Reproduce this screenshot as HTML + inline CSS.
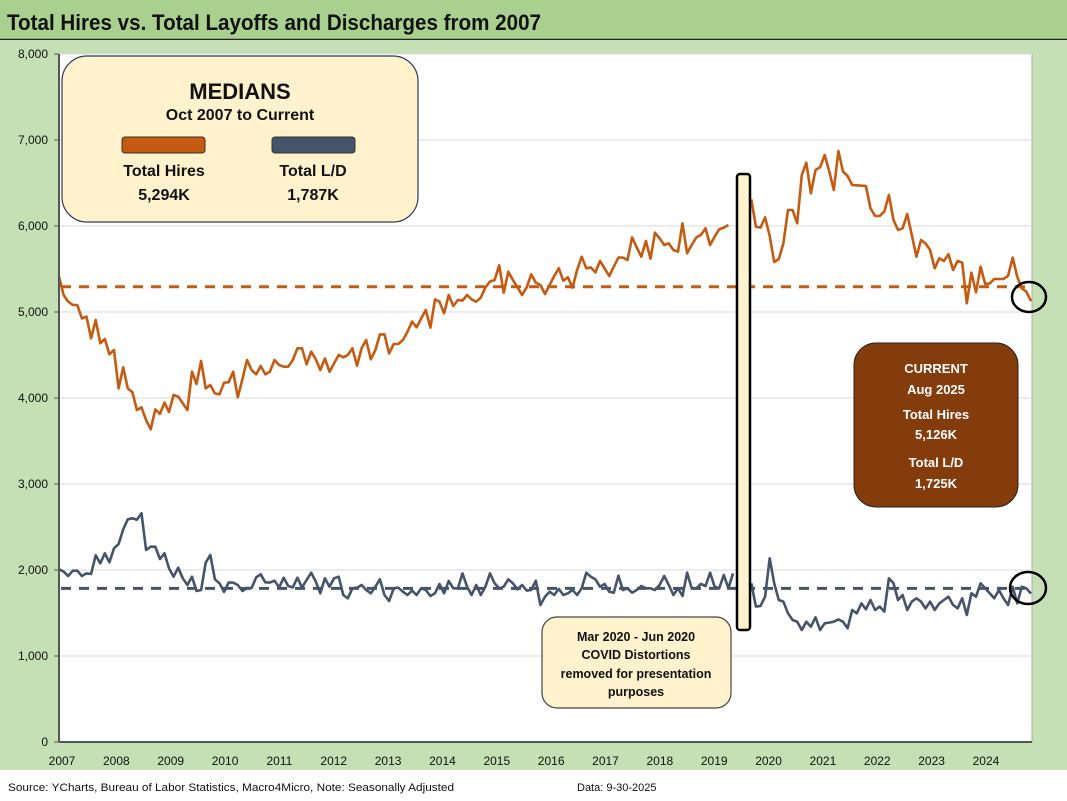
<!DOCTYPE html>
<html><head><meta charset="utf-8"><style>
body{margin:0;width:1067px;height:801px;overflow:hidden;background:#fff;font-family:"Liberation Sans",Arial,sans-serif;}
svg{display:block}
</style></head><body>
<svg width="1067" height="801" xmlns="http://www.w3.org/2000/svg">
<rect x="0" y="0" width="1067" height="40" fill="#a9d08e"/>
<line x1="0" y1="39.5" x2="1067" y2="39.5" stroke="#222" stroke-width="1.5"/>
<text x="7" y="30" font-size="22" font-weight="bold" fill="#111" textLength="534" lengthAdjust="spacingAndGlyphs">Total Hires vs. Total Layoffs and Discharges from 2007</text>
<rect x="0" y="40" width="1067" height="730" fill="#c5e0b4"/>
<rect x="59" y="54" width="973" height="688" fill="#fff" stroke="#aaa"/>
<g id="grid"></g><g id="yticks"></g><g id="xticks"></g>
<g id="medians"></g><g id="series"></g>
<line x1="59" y1="54" x2="59" y2="742" stroke="#555" stroke-width="2"/>
<line x1="59" y1="742" x2="1032" y2="742" stroke="#555" stroke-width="2"/>
<rect x="737" y="174" width="13" height="456" rx="3" fill="#fff2cc" stroke="#000" stroke-width="2.5"/>
<g>
<rect x="62" y="56" width="356" height="166" rx="25" fill="#fff2cc" stroke="#2f3b55" stroke-width="1.2"/>
<text x="240" y="99" font-size="22" font-weight="bold" text-anchor="middle" fill="#111">MEDIANS</text>
<text x="240" y="120" font-size="16" font-weight="bold" text-anchor="middle" fill="#111">Oct 2007 to Current</text>
<rect x="122" y="137" width="83" height="16" rx="3" fill="#c55a11" stroke="#333"/>
<rect x="272" y="137" width="83" height="16" rx="3" fill="#44546a" stroke="#333"/>
<text x="164" y="176" font-size="16" font-weight="bold" text-anchor="middle" fill="#111">Total Hires</text>
<text x="164" y="200" font-size="16" font-weight="bold" text-anchor="middle" fill="#111">5,294K</text>
<text x="313" y="176" font-size="16" font-weight="bold" text-anchor="middle" fill="#111">Total L/D</text>
<text x="313" y="200" font-size="16" font-weight="bold" text-anchor="middle" fill="#111">1,787K</text>
</g>
<g>
<rect x="854" y="343" width="164" height="164" rx="22" fill="#843c0c" stroke="#222"/>
<text x="936" y="373" font-size="13" font-weight="bold" text-anchor="middle" fill="#fff">CURRENT</text>
<text x="936" y="394" font-size="13" font-weight="bold" text-anchor="middle" fill="#fff">Aug 2025</text>
<text x="936" y="419" font-size="13" font-weight="bold" text-anchor="middle" fill="#fff">Total Hires</text>
<text x="936" y="439" font-size="13" font-weight="bold" text-anchor="middle" fill="#fff">5,126K</text>
<text x="936" y="467" font-size="13" font-weight="bold" text-anchor="middle" fill="#fff">Total L/D</text>
<text x="936" y="488" font-size="13" font-weight="bold" text-anchor="middle" fill="#fff">1,725K</text>
</g>
<g>
<rect x="542" y="617" width="189" height="91" rx="15" fill="#fff2cc" stroke="#444" stroke-width="1.2"/>
<text x="636" y="641" font-size="12.5" font-weight="bold" text-anchor="middle" fill="#111">Mar 2020  - Jun 2020</text>
<text x="636" y="659" font-size="12.5" font-weight="bold" text-anchor="middle" fill="#111">COVID Distortions</text>
<text x="636" y="678" font-size="12.5" font-weight="bold" text-anchor="middle" fill="#111">removed for presentation</text>
<text x="636" y="696" font-size="12.5" font-weight="bold" text-anchor="middle" fill="#111">purposes</text>
</g>
<ellipse cx="1029" cy="297" rx="17" ry="15" fill="none" stroke="#000" stroke-width="2.5"/>
<ellipse cx="1028" cy="588" rx="18" ry="16" fill="none" stroke="#000" stroke-width="2.5"/>
<text x="8" y="791" font-size="11" fill="#111" textLength="446" lengthAdjust="spacingAndGlyphs">Source: YCharts, Bureau of Labor Statistics, Macro4Micro, Note: Seasonally Adjusted</text>
<text x="577" y="791" font-size="11" fill="#111">Data: 9-30-2025</text>
</svg>
<script>
const yTicks=[0,1000,2000,3000,4000,5000,6000,7000,8000];
const yearLabels=["2007","2008","2009","2010","2011","2012","2013","2014","2015","2016","2017","2018","2019","2020","2021","2022","2023","2024"];
const medianHires=5294;
const medianLD=1787;
const gapCount=4;
const hiresPre=[5411,5198,5120,5081,5081,4926,4946,4694,4907,4636,4686,4508,4558,4112,4357,4112,4066,3860,3891,3744,3636,3868,3814,3946,3837,4035,4016,3938,3860,4306,4163,4430,4112,4151,4054,4043,4178,4182,4306,4008,4217,4442,4326,4275,4372,4275,4306,4442,4384,4364,4364,4442,4578,4578,4392,4539,
4450,4326,4461,4306,4403,4500,4473,4500,4578,4376,4578,4674,4450,4558,4740,4740,4519,4628,4628,4674,4771,4888,4822,4926,5023,4818,5147,5120,4985,5198,5070,5140,5132,5198,5147,5120,5167,5287,5353,5372,5543,5225,5469,5372,5287,5198,5287,5438,5341,5314,5209,5314,5419,
5508,5364,5403,5283,5488,5643,5508,5519,5461,5593,5508,5419,5527,5632,5632,5605,5868,5752,5643,5826,5620,5922,5857,5779,5798,5721,5701,6031,5682,5779,5868,5895,5973,5779,5876,5962,5981,6012];
const hiresPost=[6310,5992,5981,6101,5884,5581,5616,5800,6186,6186,6031,6593,6736,6380,6651,6682,6826,6632,6419,6872,6632,6581,6477,6473,6469,6465,6206,6116,6116,6167,6360,6070,5953,5973,6140,5895,5643,5837,5798,5721,5508,5624,5593,5671,5488,5593,5574,5101,5457,5229,5527,5326,5333,5384,5384,5384,5422,5632,5411,5275,5236,5126];
const ldPre=[2008,1981,1930,1992,1992,1930,1961,1953,2171,2078,2194,2089,2252,2302,2473,2589,2601,2585,2659,2233,2271,2271,2128,2194,2019,1922,2027,1903,1826,1922,1756,1767,2085,2174,1892,1845,1744,1853,1853,1826,1756,1791,1791,1915,1950,1857,1853,1876,1798,1911,1814,1798,1911,1798,1884,1969,
1864,1729,1903,1806,1903,1922,1709,1671,1787,1794,1826,1767,1729,1806,1892,1709,1640,1787,1794,1748,1709,1760,1709,1787,1767,1698,1729,1837,1729,1872,1787,1787,1961,1806,1709,1826,1709,1806,1961,1845,1787,1806,1892,1845,1775,1826,1760,1767,1876,1593,1690,1748,1709,1780,
1709,1729,1767,1709,1787,1969,1922,1892,1806,1837,1748,1736,1934,1767,1787,1736,1767,1814,1787,1787,1767,1826,1930,1826,1709,1787,1698,1969,1787,1787,1837,1814,1969,1806,1787,1942,1787,1961];
const ldPost=[1845,1574,1581,1690,2136,1845,1651,1632,1496,1419,1399,1302,1399,1341,1450,1302,1380,1388,1399,1426,1399,1322,1535,1496,1612,1543,1651,1535,1574,1516,1903,1845,1651,1709,1535,1632,1671,1632,1554,1632,1535,1612,1651,1690,1593,1554,1671,1477,1729,1690,1845,1787,1729,1671,1767,1671,1593,1806,1612,1806,1787,1725];

const NS='http://www.w3.org/2000/svg';
const X0=59,X1=1031,Y0=742,YTOP=54,YMAX=8000;
const total=hiresPre.length+gapCount+hiresPost.length;
function xPos(i){return X0+i*(X1-X0)/(total-1);}
function yPos(v){return Y0-v/YMAX*(Y0-YTOP);}
function mk(tag,attrs,parent){const e=document.createElementNS(NS,tag);for(const k in attrs)e.setAttribute(k,attrs[k]);parent.appendChild(e);return e;}
const grid=document.getElementById('grid'),yt=document.getElementById('yticks'),xt=document.getElementById('xticks');
yTicks.forEach(v=>{
  if(v>0){const g=mk('line',{x1:X0,x2:1032,y1:yPos(v),y2:yPos(v),stroke:'#d9d9d9','stroke-width':1},grid);
  
  }
  const tk=mk('line',{x1:X0-5,x2:X0,y1:yPos(v),y2:yPos(v),stroke:'#555'},yt);
  
  
  const t=mk('text',{x:48,y:yPos(v)+4,'font-size':12,'text-anchor':'end',fill:'#111'},yt);
  t.textContent=v.toLocaleString('en-US');
  
  
});
yearLabels.forEach((l,k)=>{
  const t=mk('text',{x:62+k*54.35,y:765,'font-size':12,'text-anchor':'middle',fill:'#111'},xt);
  t.textContent=l;
  
  
});
const med=document.getElementById('medians');
[[medianHires,'#c55a11','median-hires-line'],[medianLD,'#44546a','median-ld-line']].forEach(m=>{
  const l=mk('line',{x1:X0+2,x2:X1,y1:yPos(m[0]),y2:yPos(m[0]),stroke:m[1],'stroke-width':3,'stroke-dasharray':'10 8'},med);
  
  
});
const ser=document.getElementById('series');
function path(arr,off){return arr.map((v,i)=>(i?'L':'M')+xPos(i+off).toFixed(1)+','+yPos(v).toFixed(1)).join(' ');}
const postOff=hiresPre.length+gapCount;
[[hiresPre,0,'#c55a11','hires-line-pre'],[hiresPost,postOff,'#c55a11','hires-line-post'],[ldPre,0,'#44546a','layoffs-line-pre'],[ldPost,postOff,'#44546a','layoffs-line-post']].forEach(s=>{
  const p=mk('path',{d:path(s[0],s[1]),fill:'none',stroke:s[2],'stroke-width':2.6,'stroke-linejoin':'round'},ser);
  
  
});
</script>
</body></html>
